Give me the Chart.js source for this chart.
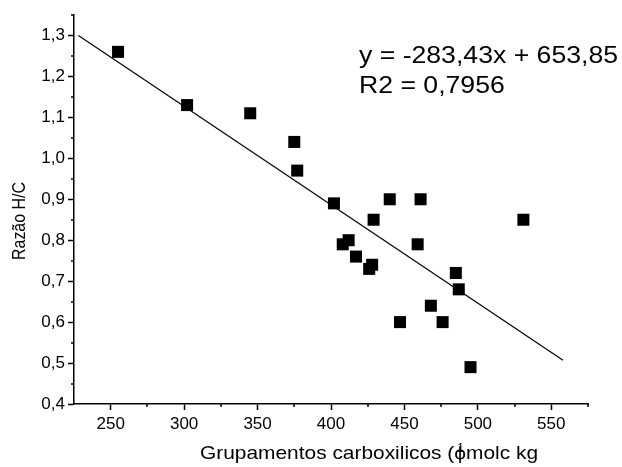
<!DOCTYPE html>
<html>
<head>
<meta charset="utf-8">
<script src="https://cdn.jsdelivr.net/npm/chart.js@4/dist/chart.umd.min.js"></script>
<style>
  html, body { margin: 0; padding: 0; background: #fff; }
  #wrap { width: 622px; height: 467px; position: relative; }
</style>
</head>
<body>
<div id="wrap"><canvas id="grafico"></canvas></div>
<script>
// Grupamentos carboxilicos (x) e razão H/C (y)
const carboxilicos = [255, 302, 345, 375, 377, 402, 440, 461, 429, 531, 408, 412, 417, 426, 428, 459, 485, 487, 468, 447, 476, 495];
const razaoHC      = [1.26, 1.13, 1.11, 1.04, 0.97, 0.89, 0.90, 0.90, 0.85, 0.85, 0.79, 0.80, 0.76, 0.73, 0.74, 0.79, 0.72, 0.68, 0.64, 0.60, 0.60, 0.49];

// reta de ajuste (extremos)
const retaX = [228, 558];
const retaY = [1.30, 0.507];

const xTicks = [250, 300, 350, 400, 450, 500, 550];
const yTicks = [0.4, 0.5, 0.6, 0.7, 0.8, 0.9, 1.0, 1.1, 1.2, 1.3];
const xMinor = [275, 325, 375, 425, 475, 525, 575];
const yMinor = [0.45, 0.55, 0.65, 0.75, 0.85, 0.95, 1.05, 1.15, 1.25, 1.35];

const equacao = ['y = -283,43x + 653,85', 'R2 = 0,7956'];
const tituloX = 'Grupamentos carboxilicos (\u03d5molc kg';
const tituloY = 'Razão H/C';

const fonte = '"Liberation Sans", Arial, sans-serif';

// escreve texto esticado até uma largura dada
function textoLargo(ctx, txt, x, y, largura) {
    const w = ctx.measureText(txt).width;
    ctx.save();
    ctx.translate(x, y);
    ctx.scale(largura / w, 1);
    ctx.fillText(txt, 0, 0);
    ctx.restore();
    return largura / w;
}

const textos = {
    id: 'textos',
    afterDraw(chart) {
        const { ctx, chartArea, scales } = chart;
        ctx.save();
        ctx.strokeStyle = '#000';
        ctx.lineWidth = 1.5;
        // marcas menores
        xMinor.forEach(v => {
            const px = Math.round(scales.x.getPixelForValue(v));
            ctx.beginPath();
            ctx.moveTo(px, chartArea.bottom);
            ctx.lineTo(px, chartArea.bottom + 3);
            ctx.stroke();
        });
        yMinor.forEach(v => {
            const py = Math.round(scales.y.getPixelForValue(v));
            ctx.beginPath();
            ctx.moveTo(chartArea.left, py);
            ctx.lineTo(chartArea.left - 3, py);
            ctx.stroke();
        });

        ctx.fillStyle = '#000';
        ctx.textBaseline = 'alphabetic';
        ctx.textAlign = 'left';
        // equação
        ctx.font = '24px ' + fonte;
        textoLargo(ctx, equacao[0], 359, 63, 259);
        const k = 259 / ctx.measureText(equacao[0]).width;
        textoLargo(ctx, equacao[1], 359, 93, ctx.measureText(equacao[1]).width * k);

        // título do eixo x
        ctx.font = '19px ' + fonte;
        const s = textoLargo(ctx, tituloX, 200, 459, 338);
        const w = ctx.measureText('Grupamentos carboxilicos (').width * s;
        ctx.font = '12px ' + fonte;
        ctx.fillText('1', 200 + w + 3, 452);

        // título do eixo y
        ctx.translate(25, 221);
        ctx.rotate(-Math.PI / 2);
        ctx.textAlign = 'left';
        ctx.font = '19px ' + fonte;
        const wy = ctx.measureText(tituloY).width;
        ctx.scale(78 / wy, 1);
        ctx.fillText(tituloY, -wy / 2, 0);
        ctx.restore();
    }
};

new Chart(document.getElementById('grafico'), {
    type: 'scatter',
    data: {
        datasets: [
            {
                label: 'Razão H/C',
                data: carboxilicos.map((x, i) => ({ x: x, y: razaoHC[i] })),
                pointStyle: 'rect',
                pointRadius: 8.5,
                backgroundColor: '#000',
                borderColor: '#000',
                borderWidth: 0
            },
            {
                label: 'Ajuste',
                type: 'line',
                data: retaX.map((x, i) => ({ x: x, y: retaY[i] })),
                borderColor: '#000',
                borderWidth: 1.2,
                pointRadius: 0,
                fill: false
            }
        ]
    },
    options: {
        responsive: true,
        maintainAspectRatio: false,
        animation: false,
        layout: { padding: { top: 15, right: 34, left: 0, bottom: 0 } },
        plugins: {
            legend: { display: false },
            tooltip: { enabled: false },
            title: { display: false }
        },
        scales: {
            x: {
                type: 'linear',
                min: 225,
                max: 575,
                afterBuildTicks: s => { s.ticks = xTicks.map(v => ({ value: v })); },
                afterFit: s => { s.height = 63; },
                ticks: {
                    color: '#000',
                    font: { family: fonte, size: 17 },
                    padding: 4,
                    maxRotation: 0,
                    callback: v => String(v)
                },
                grid: { drawOnChartArea: false, tickLength: 6, tickColor: '#000', tickWidth: 1.5 },
                border: { color: '#000', width: 1.5 }
            },
            y: {
                min: 0.4,
                max: 1.35,
                afterBuildTicks: s => { s.ticks = yTicks.map(v => ({ value: v })); },
                afterFit: s => { s.width = 74; },
                ticks: {
                    color: '#000',
                    font: { family: fonte, size: 17 },
                    padding: 3,
                    callback: v => v.toFixed(1).replace('.', ',')
                },
                grid: { drawOnChartArea: false, tickLength: 6, tickColor: '#000', tickWidth: 1.5 },
                border: { color: '#000', width: 1.5 }
            }
        }
    },
    plugins: [textos]
});
</script>
</body>
</html>
